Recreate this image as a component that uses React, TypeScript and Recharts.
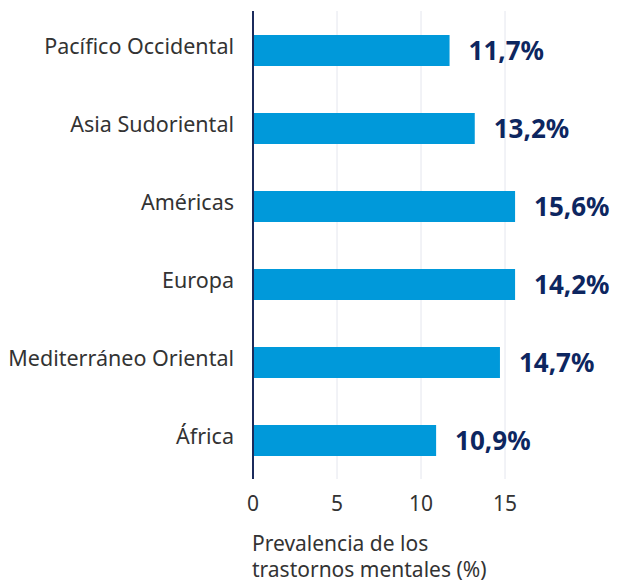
import React from "react";
import { BarChart, Bar, XAxis, YAxis, CartesianGrid, LabelList, Label } from "recharts";

const regions = [
  "Pacífico Occidental",
  "Asia Sudoriental",
  "Américas",
  "Europa",
  "Mediterráneo Oriental",
  "África",
];
// bar lengths as drawn in the source (Europa's bar is as long as Américas)
const barValues = [11.7, 13.2, 15.6, 15.6, 14.7, 10.9];
const valueLabels = ["11,7%", "13,2%", "15,6%", "14,2%", "14,7%", "10,9%"];
const xTicks = [0, 5, 10, 15];
const xMax = 20;
const titleLines = ["Prevalencia de los", "trastornos mentales (%)"];

const FONT = "'Noto Sans', sans-serif";

const data = regions.map((name, i) => ({ name, value: barValues[i], label: valueLabels[i] }));

const AxisTitle = (props: any) => {
  const { viewBox } = props;
  return (
    <text x={viewBox.x - 1} y={551} fill="#333" fontSize={21} fontFamily={FONT}>
      {titleLines.map((t, i) => (
        <tspan key={i} x={viewBox.x - 1} dy={i === 0 ? 0 : 26}>
          {t}
        </tspan>
      ))}
    </text>
  );
};

// grid lines only at the labelled ticks
const gridX = ({ offset }: any) => xTicks.map((t) => offset.left + (t / xMax) * offset.width);

export default function App() {
  return (
    <div style={{ position: "absolute", left: 0, top: 0, background: "#fff" }}>
      <BarChart
        width={617}
        height={583}
        data={data}
        layout="vertical"
        margin={{ top: 11, right: 28, bottom: 0, left: 0 }}
        barSize={31}
      >
        <CartesianGrid
          horizontal={false}
          stroke="#e4e6ee"
          strokeWidth={1}
          verticalCoordinatesGenerator={gridX}
        />
        <XAxis
          type="number"
          domain={[0, xMax]}
          ticks={xTicks}
          axisLine={false}
          tickLine={false}
          tickMargin={11}
          height={104}
          tick={{ fill: "#333", fontSize: 21, fontFamily: FONT }}
        >
          <Label content={<AxisTitle />} />
        </XAxis>
        <YAxis
          type="category"
          dataKey="name"
          width={253}
          axisLine={{ stroke: "#1b2b5c", strokeWidth: 2 }}
          tickLine={false}
          tickMargin={13}
          tick={{ fill: "#333", fontSize: 21.5, fontFamily: FONT, dy: -4 }}
        />
        <Bar dataKey="value" fill="#0099da" isAnimationActive={false}>
          <LabelList
            dataKey="label"
            position="right"
            offset={19}
            fill="#0d2660"
            fontSize={26}
            fontWeight={700}
            fontFamily={FONT}
          />
        </Bar>
      </BarChart>
    </div>
  );
}
